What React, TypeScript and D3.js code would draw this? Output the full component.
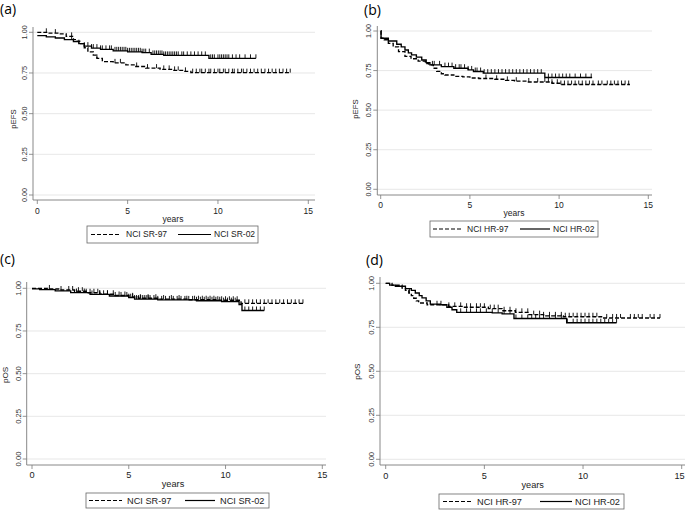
import React from 'react';
import * as d3 from 'd3';

type Step = [number, number];

const xTicks = [0, 5, 10, 15];
const yTicks = [0, 0.25, 0.5, 0.75, 1];
const yTickLabels = ['0.00', '0.25', '0.50', '0.75', '1.00'];
const xTitle = 'years';

// ---- Panel (a): pEFS, standard risk ----
const aSR97Steps: Step[] = [[0, 1.0], [0.6, 0.995], [1.2, 0.99], [1.6, 0.975], [2.0, 0.955], [2.2, 0.945], [2.4, 0.93], [2.6, 0.905], [2.8, 0.88], [3.1, 0.86], [3.3, 0.84], [3.6, 0.82], [4.2, 0.812], [4.9, 0.8], [5.4, 0.79], [6.0, 0.78], [6.8, 0.772], [7.5, 0.766], [8.1, 0.76], [8.5, 0.752]];
const aSR97End = 14.0;
const aSR97Cens = [0.5, 1.0, 1.9, 3.3, 4.3, 4.6, 5.5, 6.1, 6.6, 7.0, 7.3, 7.6, 7.8, 8.2, 8.6, 8.8, 9.0, 9.1, 9.3, 9.5, 9.6, 9.8, 10.0, 10.1, 10.3, 10.4, 10.6, 10.8, 10.9, 11.1, 11.3, 11.4, 11.6, 11.8, 12.0, 12.2, 12.4, 12.6, 12.8, 13.0, 13.2, 13.4, 13.6, 13.8, 14.0];
const aSR02Steps: Step[] = [[0, 0.98], [0.5, 0.972], [1.0, 0.965], [1.5, 0.955], [2.0, 0.943], [2.3, 0.93], [2.6, 0.915], [3.0, 0.903], [3.5, 0.895], [4.2, 0.886], [5.0, 0.88], [5.8, 0.875], [6.3, 0.864], [7.0, 0.858], [9.5, 0.84]];
const aSR02End = 12.1;
const aSR02Cens = [1.9, 2.3, 2.6, 2.8, 3.0, 3.1, 3.3, 3.5, 3.6, 3.8, 4.0, 4.1, 4.3, 4.4, 4.5, 4.6, 4.7, 4.8, 4.9, 5.0, 5.1, 5.2, 5.3, 5.4, 5.5, 5.6, 5.7, 5.8, 5.9, 6.0, 6.2, 6.4, 6.5, 6.6, 6.7, 6.8, 6.9, 7.0, 7.1, 7.2, 7.3, 7.4, 7.5, 7.6, 7.7, 7.8, 8.0, 8.1, 8.3, 8.5, 8.7, 8.9, 9.1, 9.3, 9.6, 9.7, 9.8, 10.0, 10.1, 10.2, 10.3, 10.4, 10.5, 10.6, 10.8, 11.0, 11.2, 11.5, 11.8, 12.1];
const aLegend = ['NCI SR-97', 'NCI SR-02'];

// ---- Panel (b): pEFS, high risk ----
const bHR97Steps: Step[] = [[0, 1.0], [0.02, 0.955], [0.2, 0.945], [0.43, 0.922], [0.7, 0.9], [1.0, 0.87], [1.36, 0.84], [1.7, 0.825], [2.1, 0.81], [2.5, 0.795], [2.7, 0.786], [2.95, 0.765], [3.14, 0.745], [3.4, 0.73], [3.6, 0.722], [4.1, 0.713], [4.6, 0.71], [5.0, 0.703], [5.5, 0.7], [6.4, 0.695], [7.0, 0.688], [7.5, 0.683], [8.2, 0.678], [9.6, 0.67], [10.1, 0.662]];
const bHR97End = 13.97;
const bHR97Cens = [5.9, 6.5, 7.1, 7.6, 8.3, 8.8, 9.2, 9.4, 9.6, 9.9, 10.1, 10.3, 10.5, 10.7, 10.9, 11.1, 11.3, 11.5, 11.7, 11.9, 12.2, 12.4, 12.7, 12.9, 13.1, 13.3, 13.5, 13.7, 13.9];
const bHR02Steps: Step[] = [[0, 1.0], [0.02, 0.954], [0.43, 0.937], [0.9, 0.916], [1.15, 0.9], [1.36, 0.88], [1.55, 0.862], [1.73, 0.849], [2.0, 0.835], [2.3, 0.817], [2.55, 0.8], [2.76, 0.786], [3.4, 0.775], [4.1, 0.765], [4.9, 0.754], [5.2, 0.744], [5.75, 0.734], [9.2, 0.706]];
const bHR02End = 11.85;
const bHR02Cens = [2.9, 3.0, 3.3, 3.6, 3.8, 4.0, 4.2, 4.4, 4.5, 4.7, 4.9, 5.1, 5.3, 5.4, 5.6, 5.8, 6.0, 6.2, 6.4, 6.6, 6.8, 7.0, 7.2, 7.4, 7.6, 7.8, 8.0, 8.2, 8.4, 8.6, 8.8, 9.0, 9.4, 9.6, 9.8, 10.0, 10.2, 10.4, 10.6, 10.9, 11.2, 11.5, 11.8];
const bLegend = ['NCI HR-97', 'NCI HR-02'];

// ---- Panel (c): pOS, standard risk ----
const cSR97Steps: Step[] = [[0, 1.0], [0.8, 0.996], [1.5, 0.99], [2.2, 0.983], [2.8, 0.974], [3.5, 0.965], [4.3, 0.958], [5.0, 0.95], [5.5, 0.942], [6.5, 0.937], [8.0, 0.933], [9.5, 0.93], [10.8, 0.912]];
const cSR97End = 14.0;
const cSR97Cens = [0.9, 1.5, 1.9, 2.1, 2.4, 2.6, 2.8, 3.0, 3.2, 3.4, 3.5, 3.7, 3.9, 4.2, 4.5, 4.8, 5.2, 5.6, 6.0, 6.4, 6.8, 7.2, 7.6, 8.0, 8.4, 8.6, 8.8, 9.0, 9.2, 9.4, 9.6, 9.8, 10.0, 10.2, 10.4, 10.6, 11.0, 11.2, 11.4, 11.6, 11.8, 12.0, 12.2, 12.4, 12.6, 12.8, 13.0, 13.2, 13.4, 13.6, 13.8, 14.0];
const cSR02Steps: Step[] = [[0, 0.997], [0.4, 0.992], [1.2, 0.985], [2.0, 0.975], [3.0, 0.964], [4.0, 0.955], [5.0, 0.945], [5.3, 0.937], [6.5, 0.932], [8.5, 0.927], [9.8, 0.922], [10.7, 0.905], [10.85, 0.87]];
const cSR02End = 12.0;
const cSR02Cens = [2.3, 2.7, 3.1, 3.5, 3.9, 4.3, 4.6, 4.9, 5.0, 5.1, 5.2, 5.3, 5.4, 5.5, 5.6, 5.7, 5.8, 5.9, 6.0, 6.1, 6.3, 6.5, 6.7, 6.9, 7.1, 7.3, 7.5, 7.7, 7.9, 8.1, 8.3, 8.5, 8.7, 8.9, 9.1, 9.3, 9.5, 9.7, 9.9, 10.1, 10.3, 10.5, 11.0, 11.2, 11.4, 11.6, 11.8, 12.0];
const cLegend = ['NCI SR-97', 'NCI SR-02'];

// ---- Panel (d): pOS, high risk ----
const dHR97Steps: Step[] = [[0, 1.0], [0.32, 0.989], [0.83, 0.973], [1.0, 0.96], [1.17, 0.945], [1.3, 0.93], [1.42, 0.915], [1.55, 0.9], [1.67, 0.888], [2.1, 0.878], [3.19, 0.869], [3.87, 0.864], [5.2, 0.856], [5.9, 0.844], [6.57, 0.835], [7.25, 0.822], [8.0, 0.815], [9.0, 0.81], [11.0, 0.803]];
const dHR97End = 13.9;
const dHR97Cens = [1.2, 2.6, 3.2, 3.5, 3.8, 4.1, 4.3, 4.6, 4.8, 5.0, 5.3, 5.5, 5.7, 6.0, 6.3, 6.6, 6.9, 7.2, 7.5, 7.8, 8.0, 8.3, 8.6, 8.9, 9.1, 9.3, 9.5, 9.7, 9.9, 10.1, 10.3, 10.5, 10.7, 11.2, 11.5, 11.7, 11.9, 12.4, 12.6, 12.8, 13.0, 13.4, 13.6, 13.9];
const dHR02Steps: Step[] = [[0, 1.0], [0.2, 0.99], [0.49, 0.983], [1.0, 0.97], [1.3, 0.96], [1.5, 0.945], [1.7, 0.93], [1.84, 0.917], [2.05, 0.9], [2.26, 0.882], [2.77, 0.878], [3.1, 0.864], [3.36, 0.85], [3.6, 0.835], [5.4, 0.832], [5.9, 0.826], [6.5, 0.8], [9.17, 0.776]];
const dHR02End = 11.7;
const dHR02Cens = [2.8, 3.8, 4.1, 4.3, 4.6, 4.8, 5.1, 5.4, 5.7, 6.0, 6.3, 6.6, 6.9, 7.2, 7.4, 7.6, 7.8, 8.0, 8.3, 8.6, 8.9, 9.2, 9.5, 9.7, 9.9, 10.1, 10.3, 10.5, 10.7, 10.9, 11.1, 11.3, 11.5, 11.7];
const dLegend = ['NCI HR-97', 'NCI HR-02'];

const FONT = '"Liberation Sans", Arial, sans-serif';
const INK = '#000';
const AXIS = '#7a7a7a';
const GRID = '#e4e4e4';
const DASH = '4,2';
const W = 685;
const H = 510;

interface Curve { steps: Step[]; end: number; cens: number[]; dashed: boolean }
interface Layout {
  x0: number; x15: number; y0: number; y1: number;
  axX: number; axTop: number; axY: number; axRight: number;
  letter: string; letterX: number; letterY: number;
  xlabOff: number; yearsX: number; yearsY: number;
  ytitle: string; ytitleX: number; ytitleY: number;
  lg: { x: number; y: number; w: number; h: number; d1: [number, number]; t1: number; d2: [number, number]; t2: number };
  fs: number; fsr: number;
}

function survAt(steps: Step[], t: number) {
  let s = steps[0][1];
  for (const [ti, si] of steps) {
    if (ti <= t) s = si; else break;
  }
  return s;
}

function Panel({ L, curves, legend }: { L: Layout; curves: Curve[]; legend: string[] }) {
  const x = d3.scaleLinear().domain([0, 15]).range([L.x0, L.x15]);
  const y = d3.scaleLinear().domain([0, 1]).range([L.y0, L.y1]);
  const line = d3.line<Step>().x(d => x(d[0])).y(d => y(d[1])).curve(d3.curveStepAfter);
  const lgMid = L.lg.y + L.lg.h / 2;
  return (
    <g fontFamily={FONT}>
      <text x={L.letterX} y={L.letterY} fontFamily='"Open Sans", "Noto Sans", sans-serif' fontSize={14} fill="#000">{L.letter}</text>
      {yTicks.map((t, i) => (
        <g key={'g' + i}>
          <line x1={L.axX} x2={L.axRight} y1={y(t)} y2={y(t)} stroke={GRID} strokeWidth={0.9} />
          <line x1={L.axX - 4} x2={L.axX} y1={y(t)} y2={y(t)} stroke={AXIS} strokeWidth={0.8} />
          <text transform={`translate(${L.axX - 6},${y(t)}) rotate(-90)`} textAnchor="middle" fontSize={L.fsr} fill="#333">{yTickLabels[i]}</text>
        </g>
      ))}
      <line x1={L.axX} x2={L.axX} y1={L.axTop} y2={L.axY} stroke={AXIS} strokeWidth={0.9} />
      <line x1={L.axX} x2={L.axRight} y1={L.axY} y2={L.axY} stroke={AXIS} strokeWidth={0.9} />
      {xTicks.map(t => (
        <g key={'x' + t}>
          <line x1={x(t)} x2={x(t)} y1={L.axY} y2={L.axY + 4} stroke={AXIS} strokeWidth={0.8} />
          <text x={Math.min(x(t), W - 5.5)} y={L.axY + L.xlabOff} textAnchor="middle" fontSize={L.fs} fill="#222">{t}</text>
        </g>
      ))}
      <text x={L.yearsX} y={L.yearsY} textAnchor="middle" fontSize={L.fs} fill="#222">{xTitle}</text>
      <text transform={`translate(${L.ytitleX},${L.ytitleY}) rotate(-90)`} textAnchor="middle" fontSize={L.fsr + 0.5} fill="#222">{L.ytitle}</text>
      {curves.map((c, i) => {
        const pts: Step[] = [...c.steps, [c.end, c.steps[c.steps.length - 1][1]]];
        return (
          <g key={'c' + i}>
            <path d={line(pts) || ''} fill="none" stroke={INK} strokeWidth={1.35} strokeDasharray={c.dashed ? DASH : undefined} />
            {c.cens.map((t, j) => {
              const yy = y(survAt(c.steps, t));
              return <line key={j} x1={x(t)} x2={x(t)} y1={yy} y2={yy - 4} stroke={INK} strokeWidth={0.9} />;
            })}
          </g>
        );
      })}
      <rect x={L.lg.x} y={L.lg.y} width={L.lg.w} height={L.lg.h} fill="#fff" stroke="#666" strokeWidth={0.8} />
      <line x1={L.lg.d1[0]} x2={L.lg.d1[1]} y1={lgMid} y2={lgMid} stroke={INK} strokeWidth={1.2} strokeDasharray={DASH} />
      <text x={L.lg.t1} y={lgMid + L.fs * 0.35} fontSize={L.fs} fill="#222">{legend[0]}</text>
      <line x1={L.lg.d2[0]} x2={L.lg.d2[1]} y1={lgMid} y2={lgMid} stroke={INK} strokeWidth={1.2} />
      <text x={L.lg.t2} y={lgMid + L.fs * 0.35} fontSize={L.fs} fill="#222">{legend[1]}</text>
    </g>
  );
}

const layoutA: Layout = { x0: 37.3, x15: 308.3, y0: 195, y1: 32.3, axX: 33, axTop: 27, axY: 200, axRight: 315, letter: '(a)', letterX: 0, letterY: 14, xlabOff: 14, yearsX: 173, yearsY: 222, ytitle: 'pEFS', ytitleX: 16, ytitleY: 119, lg: { x: 87, y: 226, w: 171, h: 17, d1: [91, 119], t1: 126, d2: [178, 211], t2: 214 }, fs: 8.5, fsr: 7.3 };
const layoutB: Layout = { x0: 380.7, x15: 648.3, y0: 189.3, y1: 31, axX: 377.3, axTop: 26, axY: 195, axRight: 652, letter: '(b)', letterX: 364, letterY: 14.5, xlabOff: 12.5, yearsX: 514, yearsY: 215.5, ytitle: 'pEFS', ytitleX: 358, ytitleY: 109, lg: { x: 430, y: 221, w: 168, h: 16, d1: [433, 463], t1: 467, d2: [520, 550], t2: 553 }, fs: 8.5, fsr: 7.3 };
const layoutC: Layout = { x0: 32, x15: 322.3, y0: 459, y1: 288.3, axX: 26.7, axTop: 282, axY: 465, axRight: 326, letter: '(c)', letterX: 0, letterY: 264, xlabOff: 12.5, yearsX: 173, yearsY: 487, ytitle: 'pOS', ytitleX: 8, ytitleY: 375, lg: { x: 86, y: 493, w: 183, h: 15, d1: [89, 122], t1: 127, d2: [185, 215], t2: 220 }, fs: 9.2, fsr: 7.6 };
const layoutD: Layout = { x0: 385.7, x15: 681.7, y0: 459.3, y1: 283.3, axX: 380, axTop: 277, axY: 465, axRight: 685, letter: '(d)', letterX: 366, letterY: 265, xlabOff: 13.5, yearsX: 532.7, yearsY: 488, ytitle: 'pOS', ytitleX: 359.5, ytitleY: 371.7, lg: { x: 439, y: 494, w: 185, h: 15, d1: [443, 473], t1: 477, d2: [540, 572], t2: 575 }, fs: 9.2, fsr: 7.6 };

export default function App() {
  return (
    <svg width={W} height={H} style={{ position: 'absolute', left: 0, top: 0, background: '#fff' }}>
      <Panel L={layoutA} legend={aLegend} curves={[
        { steps: aSR97Steps, end: aSR97End, cens: aSR97Cens, dashed: true },
        { steps: aSR02Steps, end: aSR02End, cens: aSR02Cens, dashed: false },
      ]} />
      <Panel L={layoutB} legend={bLegend} curves={[
        { steps: bHR97Steps, end: bHR97End, cens: bHR97Cens, dashed: true },
        { steps: bHR02Steps, end: bHR02End, cens: bHR02Cens, dashed: false },
      ]} />
      <Panel L={layoutC} legend={cLegend} curves={[
        { steps: cSR97Steps, end: cSR97End, cens: cSR97Cens, dashed: true },
        { steps: cSR02Steps, end: cSR02End, cens: cSR02Cens, dashed: false },
      ]} />
      <Panel L={layoutD} legend={dLegend} curves={[
        { steps: dHR97Steps, end: dHR97End, cens: dHR97Cens, dashed: true },
        { steps: dHR02Steps, end: dHR02End, cens: dHR02Cens, dashed: false },
      ]} />
    </svg>
  );
}
